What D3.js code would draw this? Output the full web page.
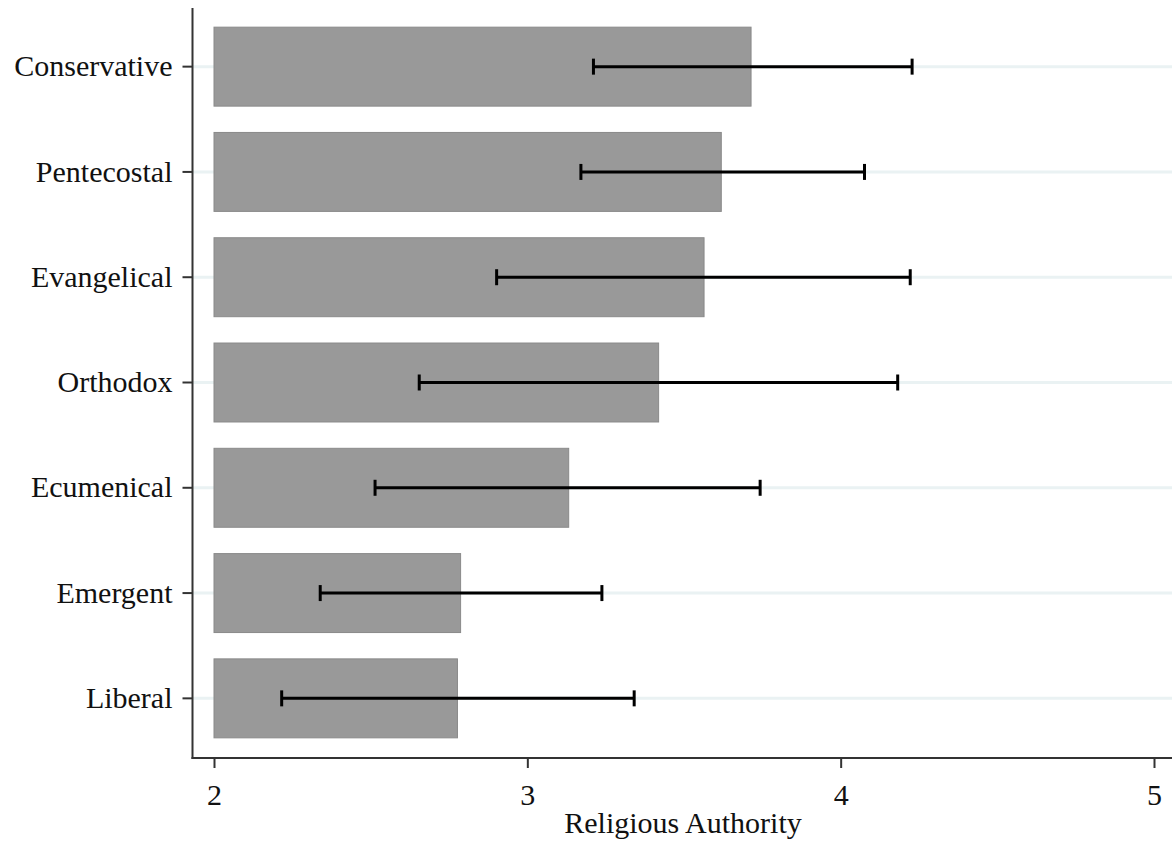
<!DOCTYPE html>
<html>
<head>
<meta charset="utf-8">
<script src="https://cdn.jsdelivr.net/npm/d3@7"></script>
<style>
  html, body { margin: 0; padding: 0; background: #fff; }
  svg { display: block; }
  text { font-family: "Liberation Serif", "DejaVu Serif", serif; fill: #111; }
</style>
</head>
<body>
<svg id="chart" width="1172" height="844"></svg>
<script>
const categories = ["Conservative", "Pentecostal", "Evangelical", "Orthodox", "Ecumenical", "Emergent", "Liberal"];
const means = [3.714, 3.619, 3.564, 3.419, 3.132, 2.787, 2.777];
const lower = [3.211, 3.171, 2.902, 2.655, 2.514, 2.339, 2.216];
const upper = [4.228, 4.076, 4.222, 4.182, 3.743, 3.238, 3.341];
const xTicks = [2, 3, 4, 5];
const xTitle = "Religious Authority";

const data = categories.map((c, i) => ({ cat: c, mean: means[i], lo: lower[i], hi: upper[i] }));

const W = 1172, H = 844;
const axisX = 192.5, axisY = 758;
const fs = 30;
const svg = d3.select("#chart");

const x = d3.scaleLinear().domain([2, 5]).range([214, 1154]);
const y = d3.scaleBand().domain(categories).range([14, 751]).paddingInner(0.25).paddingOuter(0.125);

// gridlines
svg.append("g").selectAll("line").data(categories).join("line")
  .attr("x1", axisX).attr("x2", W)
  .attr("y1", d => y(d) + y.bandwidth() / 2).attr("y2", d => y(d) + y.bandwidth() / 2)
  .attr("stroke", "#eaf2f3").attr("stroke-width", 3);

// bars
svg.append("g").selectAll("rect").data(data).join("rect")
  .attr("x", x(2)).attr("y", d => y(d.cat))
  .attr("width", d => x(d.mean) - x(2)).attr("height", y.bandwidth())
  .attr("fill", "#999999").attr("stroke", "#8a8a8a").attr("stroke-width", 1);

// error bars
const eb = svg.append("g").attr("stroke", "#000").attr("stroke-width", 3);
data.forEach(d => {
  const cy = y(d.cat) + y.bandwidth() / 2;
  eb.append("line").attr("x1", x(d.lo)).attr("x2", x(d.hi)).attr("y1", cy).attr("y2", cy);
  eb.append("line").attr("x1", x(d.lo)).attr("x2", x(d.lo)).attr("y1", cy - 8).attr("y2", cy + 8);
  eb.append("line").attr("x1", x(d.hi)).attr("x2", x(d.hi)).attr("y1", cy - 8).attr("y2", cy + 8);
});

// y axis
const yAxis = svg.append("g").attr("transform", `translate(${axisX},0)`)
  .call(d3.axisLeft(y).tickSize(10).tickPadding(10));
yAxis.select(".domain").remove();
yAxis.selectAll(".tick line").attr("stroke", "#333").attr("stroke-width", 2);
yAxis.selectAll(".tick text").attr("font-size", fs).attr("fill", "#111");
svg.append("line").attr("x1", axisX).attr("x2", axisX).attr("y1", 8).attr("y2", axisY + 1)
  .attr("stroke", "#333").attr("stroke-width", 2);

// x axis
const xAxis = svg.append("g").attr("transform", `translate(0,${axisY})`)
  .call(d3.axisBottom(x).tickValues(xTicks).tickFormat(d3.format("d")).tickSize(10).tickPadding(16));
xAxis.select(".domain").remove();
xAxis.selectAll(".tick line").attr("stroke", "#333").attr("stroke-width", 2);
xAxis.selectAll(".tick text").attr("font-size", fs).attr("fill", "#111");
svg.append("line").attr("x1", axisX - 1).attr("x2", W).attr("y1", axisY).attr("y2", axisY)
  .attr("stroke", "#333").attr("stroke-width", 2);

svg.append("text").attr("x", 683).attr("y", 833).attr("text-anchor", "middle")
  .attr("font-size", fs).text(xTitle);
</script>
</body>
</html>
